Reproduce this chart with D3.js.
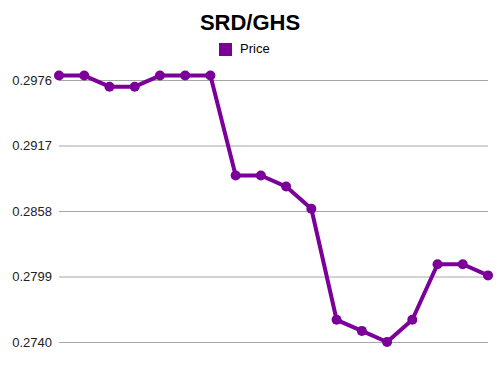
<!DOCTYPE html>
<html><head><meta charset="utf-8">
<script src="https://cdn.jsdelivr.net/npm/d3@7"></script>
<style>body{margin:0;background:#fff}svg{display:block}</style>
</head><body>
<svg id="c" width="500" height="375"></svg>
<script>
const title = "SRD/GHS";
const seriesName = "Price";
const prices = [0.2980,0.2980,0.2970,0.2970,0.2980,0.2980,0.2980,0.2890,0.2890,0.2880,0.2860,0.2760,0.2750,0.2740,0.2760,0.2810,0.2810,0.2800];
const tickValues = [0.2740,0.2799,0.2858,0.2917,0.2976];
const tickLabels = ["0.2740","0.2799","0.2858","0.2917","0.2976"];

const svg = d3.select("#c");
const color = "#7b0099";
const font = "'Liberation Sans', Arial, Helvetica, sans-serif";

const x = d3.scaleLinear().domain([0, prices.length-1]).range([59, 488]);
const y = d3.scaleLinear().domain([0.2740, 0.2976]).range([342, 80]);

svg.append("text").attr("x",250).attr("y",30).attr("text-anchor","middle")
  .attr("font-family",font).attr("font-weight","bold").attr("font-size",22).attr("fill","#000").text(title);

svg.append("rect").attr("x",219).attr("y",43).attr("width",13).attr("height",13).attr("fill",color);
svg.append("text").attr("x",240).attr("y",53).attr("font-family",font).attr("font-size",13).attr("fill","#000").text(seriesName);

const axis = d3.axisLeft(y).tickValues(tickValues).tickFormat((d,i)=>tickLabels[i]).tickSize(-(488-59)).tickPadding(7);
const g = svg.append("g").attr("transform","translate(59,0)").call(axis);
g.select(".domain").remove();
g.selectAll(".tick line").attr("stroke","#a6a6a6").attr("stroke-width",1);
g.selectAll(".tick text").attr("font-family",font).attr("font-size",13).attr("fill","#222");

const line = d3.line().x((d,i)=>x(i)).y(d=>y(d));
svg.append("path").datum(prices).attr("d",line).attr("fill","none").attr("stroke",color).attr("stroke-width",4).attr("stroke-linejoin","round");
svg.selectAll("circle.pt").data(prices).enter().append("circle").attr("class","pt")
  .attr("cx",(d,i)=>x(i)).attr("cy",d=>y(d)).attr("r",5).attr("fill",color);
</script>
</body></html>
